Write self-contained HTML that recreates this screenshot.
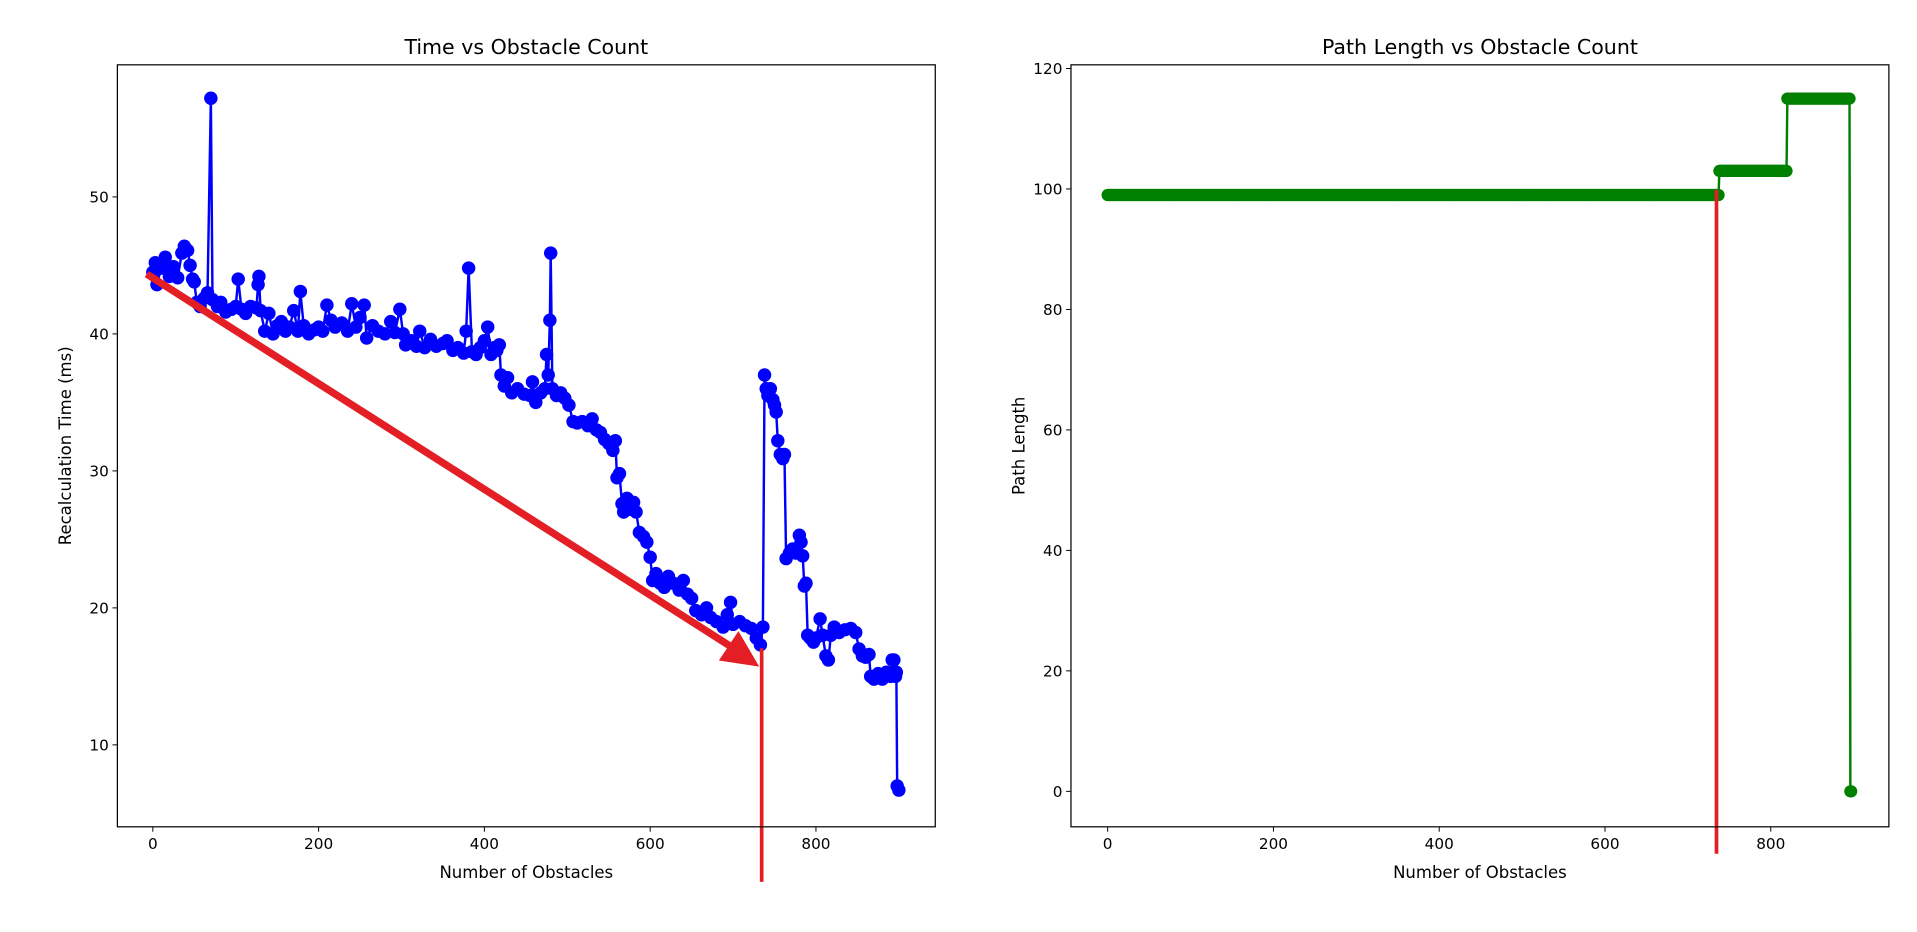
<!DOCTYPE html>
<html><head><meta charset="utf-8"><style>html,body{margin:0;padding:0;background:#fff}svg{display:block}text{font-family:"DejaVu Sans","Liberation Sans",sans-serif;fill:#000}</style></head>
<body>
<svg id="fig" width="1917" height="932" viewBox="0 0 1568 762" preserveAspectRatio="none" xmlns="http://www.w3.org/2000/svg">
<rect width="1568" height="762" fill="#fff"/>
<g id="left"></g>
<g id="right"></g>
</svg>
<script>
const timeX=[0,3,5,10,15,20,25,30,35,38,42,45,48,50,53,57,62,66,70,72,78,82,88,95,100,103,107,112,118,125,127,128,130,135,140,145,150,155,160,165,170,175,178,182,188,195,200,205,210,215,220,228,235,240,245,250,255,258,265,272,280,287,292,298,302,305,312,318,322,328,335,342,350,355,362,368,375,378,381,385,390,395,400,404,408,412,415,418,420,424,428,433,440,448,455,458,462,468,473,475,477,479,480,482,487,492,497,502,507,512,518,525,530,535,540,545,550,555,558,560,563,566,568,572,576,580,583,587,592,596,600,603,607,612,617,622,628,635,640,645,650,655,662,668,673,680,688,693,697,700,708,715,722,728,733,736,738,740,742,745,748,750,752,754,757,760,762,764,768,772,776,780,782,784,786,788,790,793,797,800,805,808,812,815,818,822,828,835,842,848,852,856,860,864,866,870,875,880,885,890,892,894,896,897,898,900];
const timeY=[44.5,45.2,43.6,44.8,45.6,44.2,44.9,44.1,45.9,46.4,46.1,45.0,44.0,43.8,42.3,42.0,42.6,43.0,57.2,42.5,42.0,42.3,41.6,41.8,42.0,44.0,41.8,41.5,42.0,41.9,43.6,44.2,41.7,40.2,41.5,40.0,40.6,40.9,40.2,40.5,41.7,40.2,43.1,40.6,40.0,40.3,40.5,40.2,42.1,41.0,40.5,40.8,40.2,42.2,40.5,41.2,42.1,39.7,40.6,40.2,40.0,40.9,40.1,41.8,40.0,39.2,39.5,39.1,40.2,39.0,39.6,39.1,39.3,39.5,38.8,39.0,38.6,40.2,44.8,38.7,38.5,39.0,39.5,40.5,38.5,39.0,38.8,39.2,37.0,36.2,36.8,35.7,36.0,35.6,35.5,36.5,35.0,35.7,36.0,38.5,37.0,41.0,45.9,36.0,35.5,35.7,35.3,34.8,33.6,33.5,33.6,33.3,33.8,33.0,32.8,32.3,32.0,31.5,32.2,29.5,29.8,27.6,27.0,28.0,27.2,27.7,27.0,25.5,25.2,24.8,23.7,22.0,22.5,21.8,21.5,22.3,21.8,21.3,22.0,21.0,20.7,19.8,19.5,20.0,19.3,19.0,18.6,19.5,20.4,18.8,19.0,18.7,18.5,17.8,17.3,18.6,37.0,36.0,35.5,36.0,35.2,34.8,34.3,32.2,31.2,30.9,31.2,23.6,24.0,24.3,24.0,25.3,24.8,23.8,21.6,21.8,18.0,17.8,17.5,17.8,19.2,18.0,16.5,16.2,18.0,18.6,18.2,18.4,18.5,18.2,17.0,16.5,16.4,16.6,15.0,14.8,15.2,14.8,15.3,15.0,16.2,16.2,15.0,15.3,7.0,6.7];
const leftXTicks=[0,200,400,600,800];
const leftYTicks=[10,20,30,40,50];
const pathStarts=[0,738,820,896];
const pathEnds=[737,819,895,897];
const pathValues=[99,103,115,0];
const rightXTicks=[0,200,400,600,800];
const rightYTicks=[0,20,40,60,80,100,120];

const NS='http://www.w3.org/2000/svg';
function mk(parent,tag,attrs,text){const e=document.createElementNS(NS,tag);for(const k in attrs)e.setAttribute(k,attrs[k]);if(text!==undefined)e.textContent=text;parent.appendChild(e);return e;}

const lx=v=>125+(v-0)*0.678;
const ly=v=>161+(50-v)*11.2;
const rx=v=>906+v*0.678;
const ry=v=>647-v*4.925;

function frame(g,x0,x1,y0,y1,title,xl,yl,xt,yt,fx,fy){
  const t=mk(g,'text',{x:(x0+x1)/2,y:y0-9,'text-anchor':'middle','font-size':16.8},title);
  
  
  xt.forEach(v=>{const X=fx(v);
    mk(g,'line',{x1:X,x2:X,y1:y1,y2:y1+4,stroke:'#000','stroke-width':0.8});
    const l=mk(g,'text',{x:X,y:y1+18,'text-anchor':'middle','font-size':12.5},v);
    
    });
  yt.forEach(v=>{const Y=fy(v);
    mk(g,'line',{x1:x0-4,x2:x0,y1:Y,y2:Y,stroke:'#000','stroke-width':0.8});
    const l=mk(g,'text',{x:x0-7,y:Y+4.5,'text-anchor':'end','font-size':12.5},v);
    
    });
  const a=mk(g,'text',{x:(x0+x1)/2,y:y1+42,'text-anchor':'middle','font-size':13.5},xl);
  
  
  const cy=(y0+y1)/2;
  const b=mk(g,'text',{x:0,y:0,'text-anchor':'middle','font-size':13.5,transform:`translate(${x0-38},${cy}) rotate(-90)`},yl);
  
  
}

const L=document.getElementById('left');
frame(L,96,765,53,676,'Time vs Obstacle Count','Number of Obstacles','Recalculation Time (ms)',leftXTicks,leftYTicks,lx,ly);
const cl=mk(L,'clipPath',{id:'cl'});mk(cl,'rect',{x:96,y:53,width:669,height:623});
const lg=mk(L,'g',{'clip-path':'url(#cl)'});
const lp=mk(lg,'polyline',{points:timeX.map((x,i)=>lx(x)+','+ly(timeY[i])).join(' '),fill:'none',stroke:'#0000ff','stroke-width':2});


timeX.forEach((x,i)=>{const c=mk(lg,'circle',{cx:lx(x),cy:ly(timeY[i]),r:5.5,fill:'#0000ff'});
  
  });
const ar=mk(L,'g',{});


mk(ar,'line',{x1:120,y1:224,x2:600,y2:530,stroke:'#e31e24','stroke-width':6});
mk(ar,'polygon',{points:'621,545 588,540 604,516',fill:'#e31e24'});
const v1=mk(L,'line',{x1:623,x2:623,y1:530,y2:721,stroke:'#e31e24','stroke-width':3});


mk(L,'rect',{x:96,y:53,width:669,height:623,fill:'none',stroke:'#000','stroke-width':1});

const R=document.getElementById('right');
frame(R,876,1545,53,676,'Path Length vs Obstacle Count','Number of Obstacles','Path Length',rightXTicks,rightYTicks,rx,ry);
const px=[],py=[];
pathStarts.forEach((s,i)=>{for(let x=s;x<=pathEnds[i];x++){px.push(x);py.push(pathValues[i]);}});
const rp=mk(R,'polyline',{points:px.map((x,i)=>rx(x)+','+ry(py[i])).join(' '),fill:'none',stroke:'#008000','stroke-width':2});


px.forEach((x,i)=>{const c=mk(R,'circle',{cx:rx(x),cy:ry(py[i]),r:5,fill:'#008000'});
  
  });
const v2=mk(R,'line',{x1:1404,x2:1404,y1:155,y2:698,stroke:'#e31e24','stroke-width':3});


mk(R,'rect',{x:876,y:53,width:669,height:623,fill:'none',stroke:'#000','stroke-width':1});
</script>
</body></html>
